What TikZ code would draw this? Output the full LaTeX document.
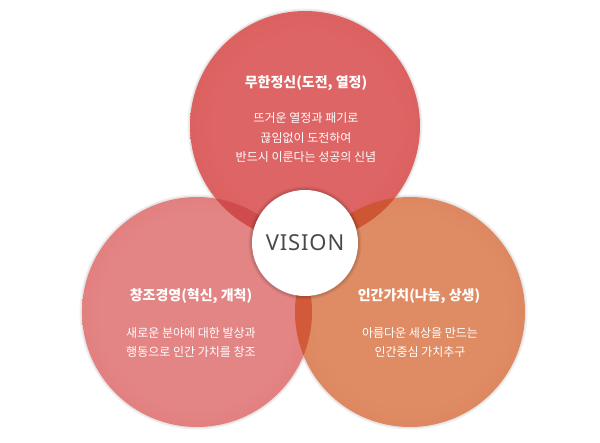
\documentclass[tikz,border=0pt]{standalone}
\usepackage{fontspec}
\newfontfamily\krfont{Noto Sans CJK KR}
\newfontfamily\visfont{Noto Sans}[LetterSpace=4]
\definecolor{topin}{HTML}{DE6565}
\definecolor{topout}{HTML}{D24B4C}
\definecolor{leftin}{HTML}{E48585}
\definecolor{leftout}{HTML}{DA6869}
\definecolor{rightin}{HTML}{DF8C64}
\definecolor{rightout}{HTML}{D3714A}
\definecolor{ovTL}{HTML}{D04C4C}
\definecolor{ovTR}{HTML}{CE5634}
\definecolor{ovLR}{HTML}{D25A3A}
\definecolor{visout}{HTML}{E4E4E4}
\definecolor{vistext}{HTML}{4A4A4A}
\pgfdeclareradialshading{topball}{\pgfpoint{0bp}{0bp}}{color(0bp)=(topin); color(20bp)=(topin); color(50bp)=(topout)}
\pgfdeclareradialshading{leftball}{\pgfpoint{0bp}{0bp}}{color(0bp)=(leftin); color(20bp)=(leftin); color(50bp)=(leftout)}
\pgfdeclareradialshading{rightball}{\pgfpoint{0bp}{0bp}}{color(0bp)=(rightin); color(20bp)=(rightin); color(50bp)=(rightout)}
\pgfdeclareradialshading{visball}{\pgfpoint{0bp}{0bp}}{color(0bp)=(white); color(36bp)=(white); color(50bp)=(visout)}
\tikzset{
  ttl/.style={text=white, font=\krfont\bfseries\fontsize{14}{17}\selectfont, anchor=base, inner sep=0pt},
  bdy/.style={text=white, font=\krfont\fontsize{12}{15}\selectfont, anchor=base, inner sep=0pt},
  halo/.style={fill=black, opacity=0.05}
}
\begin{document}
\begin{tikzpicture}[x=1pt,y=-1pt]
\useasboundingbox (0,0) rectangle (600,442);
\fill[white] (0,0) rectangle (600,442);
\coordinate (T) at (305,126);
\coordinate (L) at (197,312);
\coordinate (R) at (410,312);
\coordinate (V) at (305,243);
\def\rad{115pt}
% soft halos
\foreach \c in {T,L,R}{
  \fill[halo] (\c) circle[radius=117.5pt];
  \fill[halo] (\c) circle[radius=116.3pt];
}
% circles
\shade[shading=leftball] (L) circle[radius=\rad];
\shade[shading=rightball] (R) circle[radius=\rad];
\shade[shading=topball] (T) circle[radius=\rad];
% overlaps
\begin{scope}
  \clip (T) circle[radius=\rad];
  \fill[ovTL] (L) circle[radius=\rad];
  \fill[ovTR] (R) circle[radius=\rad];
\end{scope}
\begin{scope}
  \clip (L) circle[radius=\rad];
  \fill[ovLR] (R) circle[radius=\rad];
\end{scope}
% vision circle
\fill[black,opacity=0.07] (V) circle[radius=56.5pt];
\fill[black,opacity=0.09] (V) circle[radius=54.8pt];
\shade[shading=visball] (V) circle[radius=53pt];
\node[anchor=base, inner sep=0pt, text=vistext, font=\visfont\fontsize{22}{26}\selectfont] (vision) at (305,250.5) {VISION};
% top texts
\node[ttl] (t0) at (306,87) {무한정신(도전, 열정)};
\node[bdy] (t1) at (306,122.5) {뜨거운 열정과 패기로};
\node[bdy] (t2) at (306,142.5) {끊임없이 도전하여};
\node[bdy] (t3) at (306,161.5) {반드시 이룬다는 성공의 신념};
% left texts
\node[ttl] (l0) at (191,300) {창조경영(혁신, 개척)};
\node[bdy] (l1) at (191,337.5) {새로운 분야에 대한 발상과};
\node[bdy] (l2) at (191,356.5) {행동으로 인간 가치를 창조};
% right texts
\node[ttl] (r0) at (419,300) {인간가치(나눔, 상생)};
\node[bdy] (r1) at (420,337.5) {아름다운 세상을 만드는};
\node[bdy] (r2) at (420,356.5) {인간중심 가치추구};
\end{tikzpicture}
\end{document}
